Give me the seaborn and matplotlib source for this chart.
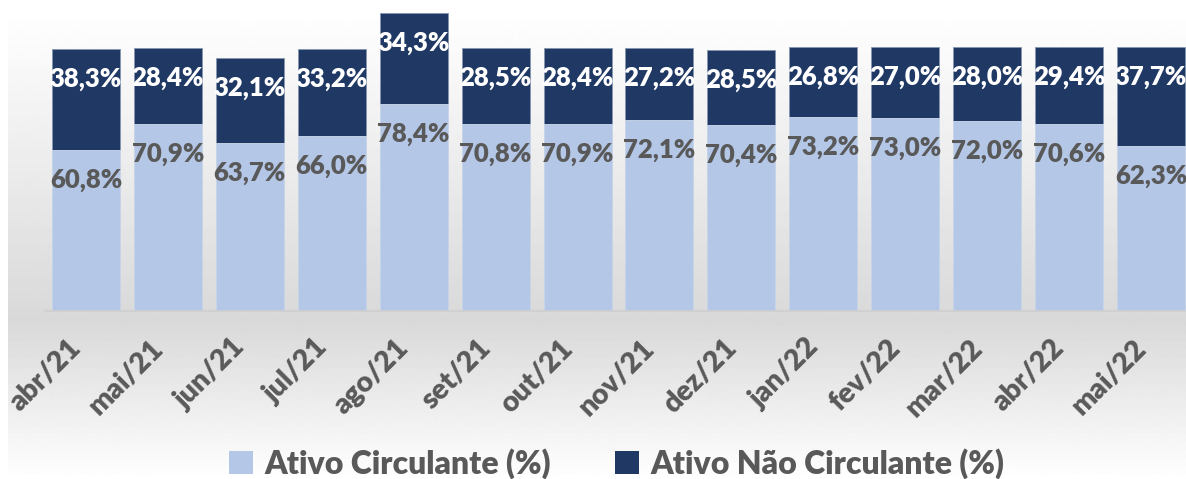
import numpy as np
import matplotlib
matplotlib.use("Agg")
import matplotlib.pyplot as plt
from matplotlib.patches import Patch
import seaborn as sns

months = ["abr/21", "mai/21", "jun/21", "jul/21", "ago/21", "set/21", "out/21",
          "nov/21", "dez/21", "jan/22", "fev/22", "mar/22", "abr/22", "mai/22"]
ativo_circulante = [60.8, 70.9, 63.7, 66.0, 78.4, 70.8, 70.9, 72.1, 70.4, 73.2, 73.0, 72.0, 70.6, 62.3]
ativo_nao_circulante = [38.3, 28.4, 32.1, 33.2, 34.3, 28.5, 28.4, 27.2, 28.5, 26.8, 27.0, 28.0, 29.4, 37.7]
series_names = ["Ativo Circulante (%)", "Ativo Não Circulante (%)"]

LIGHT = "#b4c7e7"
DARK = "#203864"
GRAY_TXT = "#595959"

sns.set_theme(style="white")
plt.rcParams["font.family"] = ["Lato", "DejaVu Sans"]

W, H = 1186, 479
fig = plt.figure(figsize=(W / 100, H / 100), dpi=100)

# background gradient (white -> gray -> white)
bg = fig.add_axes([8 / W, 0, 1 - 8 / W, 1], zorder=-10)
ys = np.arange(H)
top_y, mid_y = 13, 320
vals = np.where(ys <= mid_y,
                1.0 - (np.clip(ys - top_y, 0, None) / (mid_y - top_y)) * (1 - 0.85),
                0.85 + (ys - mid_y) / (H - mid_y) * (1 - 0.85))
img = np.repeat(vals[:, None], 2, axis=1)
bg.imshow(img, cmap="gray", vmin=0, vmax=1, aspect="auto", extent=[0, 1, 0, 1], origin="upper")
bg.set_axis_off()

ax = fig.add_axes([45 / W, (H - 311) / H, (1192 - 45) / W, 311 / H])
ax.patch.set_alpha(0)

totals = [a + b for a, b in zip(ativo_circulante, ativo_nao_circulante)]
sns.barplot(x=months, y=totals, color=DARK, saturation=1, width=0.83, ax=ax,
            edgecolor="#8496b0", linewidth=0.6)
sns.barplot(x=months, y=ativo_circulante, color=LIGHT, saturation=1, width=0.83, ax=ax,
            edgecolor="#d0dcef", linewidth=0.6)

ax.set_xlim(-0.5, 13.5)
ax.set_ylim(0, 311 / 2.644)

for i, (c, t, n) in enumerate(zip(ativo_circulante, totals, ativo_nao_circulante)):
    ax.annotate(f"{c:.1f}%".replace(".", ","), (i, c), xytext=(0, -30), textcoords="offset pixels",
                ha="center", va="center", fontsize=18.5, fontweight="heavy", color=GRAY_TXT)
    ax.annotate(f"{n:.1f}%".replace(".", ","), (i, t), xytext=(0, -30), textcoords="offset pixels",
                ha="center", va="center", fontsize=18.5, fontweight="heavy", color="white")

for s in ["left", "right", "top"]:
    ax.spines[s].set_visible(False)
ax.spines["bottom"].set_color("#cfcfcf")
ax.spines["bottom"].set_linewidth(1.2)
ax.set_yticks([])
ax.set_xlabel("")
ax.tick_params(axis="x", length=0, pad=17)
ax.set_xticks(range(len(months)))
ax.set_xticklabels(months, rotation=45, ha="right", va="top", fontsize=20.5,
                   fontweight="heavy", color=GRAY_TXT)

handles = [Patch(facecolor=LIGHT, edgecolor="none"), Patch(facecolor=DARK, edgecolor="none")]
leg = fig.legend(handles, series_names, loc="lower center", bbox_to_anchor=(0.52, -0.06), ncol=2,
                 frameon=False, prop={"size": 23, "weight": "heavy"}, handlelength=0.75,
                 handleheight=0.75, handletextpad=0.35, columnspacing=2.0, labelcolor=GRAY_TXT)

fig.savefig("out.png", dpi=100)
